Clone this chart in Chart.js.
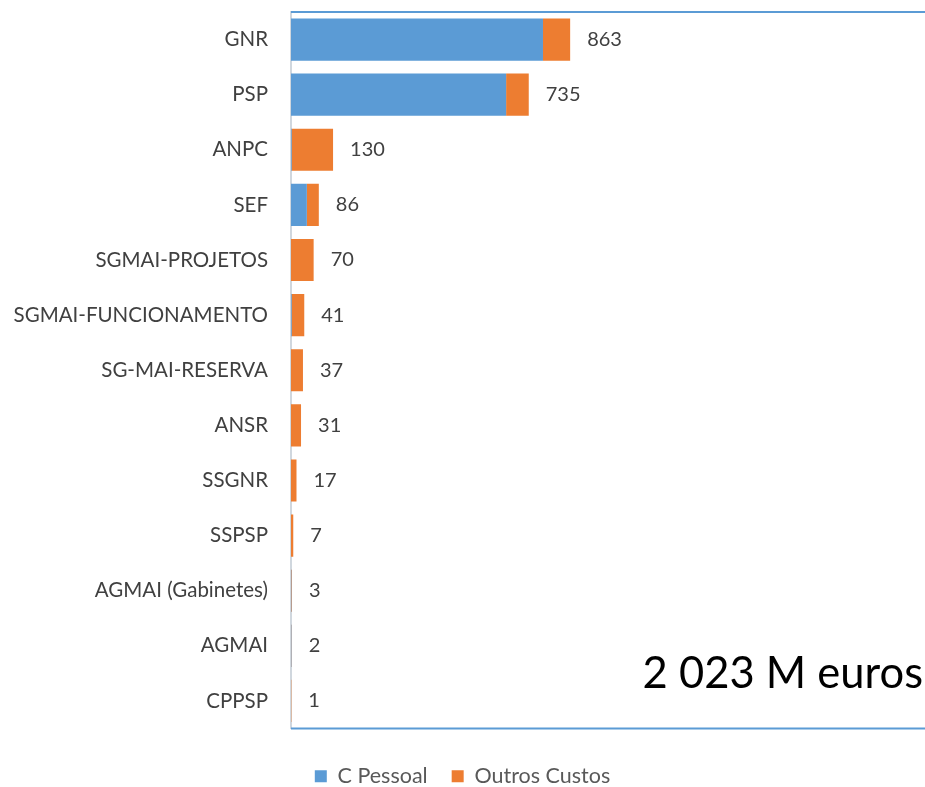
<!DOCTYPE html>
<html>
<head>
<meta charset="utf-8">
<script src="https://cdn.jsdelivr.net/npm/chart.js@4"></script>
<style>
  html, body { margin: 0; padding: 0; background: #fff; }
  #wrap { width: 925px; height: 787px; position: relative; }
</style>
</head>
<body>
<div id="wrap"><canvas id="custos"></canvas></div>
<script>
// dados (milhões de euros)
const categorias = ['GNR', 'PSP', 'ANPC', 'SEF', 'SGMAI-PROJETOS', 'SGMAI-FUNCIONAMENTO',
  'SG-MAI-RESERVA', 'ANSR', 'SSGNR', 'SSPSP', 'AGMAI (Gabinetes)', 'AGMAI', 'CPPSP'];
const cPessoal = [779, 665, 2, 49, 0, 2, 0, 0, 0, 0, 1, 1, 0];
const outrosCustos = [84, 70, 128, 37, 70, 39, 37, 31, 17, 7, 2, 1, 1];
const totalTexto = '2 023 M euros';

const fonte = 'Lato, "Open Sans", sans-serif';

// linhas azuis em cima/baixo + totais ao lado das barras
const extras = {
  id: 'extras',
  afterDatasetsDraw(chart) {
    const { ctx, chartArea, scales } = chart;
    ctx.save();
    ctx.strokeStyle = '#5B9BD5';
    ctx.lineWidth = 2;
    ctx.beginPath();
    ctx.moveTo(chartArea.left, chartArea.top);
    ctx.lineTo(chart.width, chartArea.top);
    ctx.moveTo(chartArea.left, chartArea.bottom);
    ctx.lineTo(chart.width, chartArea.bottom);
    ctx.stroke();

    ctx.font = '20px ' + fonte;
    ctx.fillStyle = '#404040';
    ctx.textAlign = 'left';
    ctx.textBaseline = 'middle';
    categorias.forEach((c, i) => {
      const total = cPessoal[i] + outrosCustos[i];
      const x = scales.x.getPixelForValue(total) + 17;
      const y = scales.y.getPixelForValue(i);
      ctx.fillText(String(total), x, y);
    });

    ctx.font = '43.5px ' + fonte;
    ctx.fillStyle = '#000';
    ctx.textAlign = 'right';
    ctx.textBaseline = 'alphabetic';
    ctx.fillText(totalTexto, 923, 688);
    ctx.restore();
  }
};

new Chart(document.getElementById('custos'), {
  type: 'bar',
  data: {
    labels: categorias,
    datasets: [
      { label: 'C Pessoal', data: cPessoal, backgroundColor: '#5B9BD5' },
      { label: 'Outros Custos', data: outrosCustos, backgroundColor: '#ED7D31' }
    ]
  },
  options: {
    indexAxis: 'y',
    responsive: true,
    maintainAspectRatio: false,
    animation: false,
    datasets: { bar: { categoryPercentage: 0.765, barPercentage: 1 } },
    layout: { padding: { top: 12, right: 0, bottom: -10, left: 0 } },
    plugins: {
      legend: {
        position: 'bottom',
        labels: {
          boxWidth: 12, boxHeight: 12, padding: 24,
          color: '#595959',
          font: { family: fonte, size: 21.5 }
        }
      },
      tooltip: { enabled: false }
    },
    scales: {
      x: {
        stacked: true, min: 0, max: 1960,
        grid: { display: false, drawTicks: false },
        border: { display: false },
        ticks: { display: false },
        afterFit(scale) { scale.height = 13; }
      },
      y: {
        stacked: true,
        grid: { display: false, drawTicks: false },
        border: { display: true, color: '#D0D7DE', width: 2 },
        ticks: { color: '#404040', padding: 23, font: { family: fonte, size: 20.5 } },
        afterFit(scale) {
          scale.width = 291;
          scale.paddingTop = 0;
          scale.paddingBottom = 0;
        }
      }
    }
  },
  plugins: [extras]
});
</script>
</body>
</html>
